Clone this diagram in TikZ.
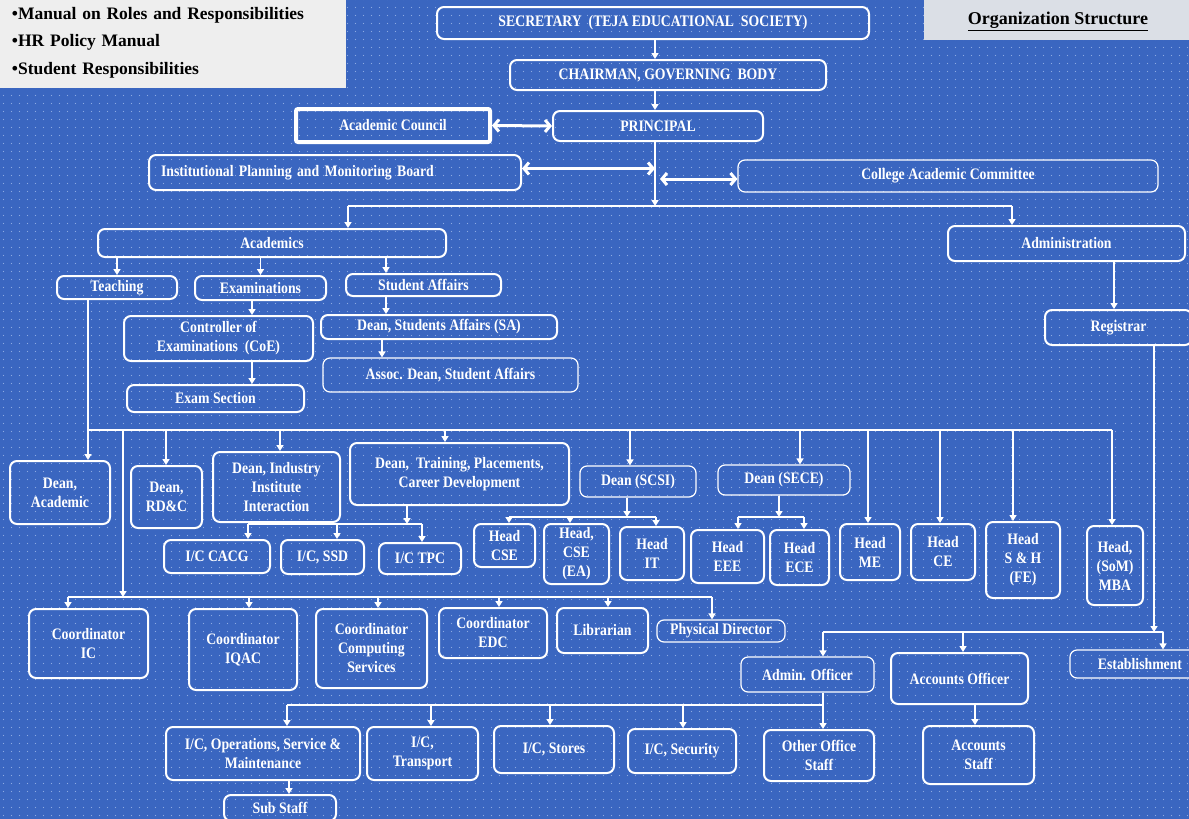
\documentclass[tikz,border=0pt]{standalone}
\usepackage{fontspec}
\newfontfamily\boxfont{Liberation Serif}[FakeStretch=0.86]
\newfontfamily\notefont{Liberation Serif}
\usetikzlibrary{arrows.meta,patterns.meta}

\definecolor{bgblue}{RGB}{58,102,192}
\definecolor{dotblue}{RGB}{140,170,225}
\definecolor{notegray}{RGB}{238,238,238}
\definecolor{titlegray}{RGB}{219,223,230}

% fine dot raster laid over the blue ground
\tikzdeclarepattern{
  name=bgdots,
  type=uncolored,
  bounding box={(0pt,0pt) and (7.5pt,7.5pt)},
  tile size={(7.5pt,7.5pt)},
  code={\fill (3.75pt,3.75pt) circle (0.7pt);}
}

\tikzset{
  orgbox/.style={draw=white, line width=2pt, rounded corners=7pt, inner sep=0pt,
    text=white, font=\boxfont\bfseries\fontsize{16}{19}\selectfont},
  multi/.style={orgbox, align=center},
  thinbox/.style={orgbox, line width=1.2pt},
  heavybox/.style={orgbox, line width=4pt, rounded corners=2pt},
  notebox/.style={fill=notegray, inner sep=0pt, text=black,
    font=\notefont\bfseries\fontsize{17.5}{27.5}\selectfont},
  conn/.style={draw=white, line width=1.8pt},
  arr/.style={conn, -{Triangle[length=6pt,width=7pt]}},
  dbl/.style={draw=white, line width=3pt,
    {Straight Barb[length=5pt,width=12pt]}-{Straight Barb[length=5pt,width=12pt]}},
}

% box given by its left, top, right and bottom edges
\newcommand\orgnode[7][orgbox]{%
  \pgfmathsetmacro\onx{(#3+#5)/2}%
  \pgfmathsetmacro\ony{(#4+#6)/2}%
  \pgfmathsetmacro\onw{#5-#3}%
  \pgfmathsetmacro\onh{#6-#4}%
  \node[#1, minimum width=\onw pt, minimum height=\onh pt] (#2) at (\onx,\ony) {#7};}

\begin{document}
\begin{tikzpicture}[x=1pt,y=-1pt]
\useasboundingbox (0,0) rectangle (1189,819);
\clip (0,0) rectangle (1189,819);
\fill[bgblue] (0,0) rectangle (1189,819);
\fill[pattern=bgdots, pattern color=dotblue] (0,0) rectangle (1189,819);

% ---------- reference panels ----------
\orgnode[notebox, text width=319pt, align=left]{notes}{-3}{-3}{346}{88}
  {\textbullet Manual on Roles and Responsibilities\\
   \textbullet HR Policy Manual\\
   \textbullet Student Responsibilities}
\orgnode[notebox, fill=titlegray, text depth=0pt,
         font=\notefont\bfseries\fontsize{18}{22}\selectfont]{title}{924}{-3}{1192}{40}
  {\underline{Organization Structure}}

% ---------- top management ----------
\orgnode{sec}{437}{7}{869}{39}{SECRETARY~~(TEJA EDUCATIONAL~~SOCIETY)}
\orgnode{chair}{510}{60}{826}{90}{CHAIRMAN, GOVERNING~~BODY}
\orgnode[heavybox]{ac}{296}{109}{490}{142}{Academic Council}
\orgnode{prin}{553}{111}{763}{141}{PRINCIPAL}
\orgnode[orgbox, text width=348pt, align=left]{ipmb}{149}{155}{521}{190}
  {Institutional Planning and Monitoring Board}
\orgnode[thinbox]{cac}{738}{160}{1158}{192}{College Academic Committee}

% ---------- academics / administration ----------
\orgnode{acad}{98}{229}{446}{257}{Academics}
\orgnode{adm}{948}{226}{1185}{261}{Administration}
\orgnode{teach}{57}{276}{177}{299}{Teaching}
\orgnode{exam}{195}{276}{326}{300}{Examinations}
\orgnode{sa}{346}{274}{501}{296}{Student Affairs}
\orgnode[multi]{coe}{124}{316}{313}{361}{Controller of\\Examinations~~(CoE)}
\orgnode{exsec}{127}{385}{304}{412}{Exam Section}
\orgnode{dsa}{321}{315}{557}{339}{Dean, Students Affairs (SA)}
\orgnode[thinbox]{adsa}{323}{358}{578}{392}{Assoc. Dean, Student Affairs}
\orgnode{reg}{1045}{310}{1192}{345}{Registrar}

% ---------- deans and heads ----------
\orgnode[multi]{dacad}{10}{461}{110}{524}{Dean,\\Academic}
\orgnode[multi]{drdc}{131}{466}{202}{528}{Dean,\\RD\&C}
\orgnode[multi]{diii}{213}{452}{340}{522}{Dean, Industry\\Institute\\Interaction}
\orgnode[multi]{dtpc}{350}{443}{569}{505}{Dean,~~Training, Placements,\\Career Development}
\orgnode[thinbox]{dscsi}{580}{466}{696}{497}{Dean (SCSI)}
\orgnode[thinbox]{dsece}{718}{465}{850}{495}{Dean (SECE)}
\orgnode[multi]{hme}{840}{524}{900}{580}{Head\\ME}
\orgnode[multi]{hce}{911}{524}{975}{580}{Head\\CE}
\orgnode[multi]{hsh}{986}{522}{1060}{598}{Head\\S \& H\\(FE)}
\orgnode[multi]{hmba}{1087}{526}{1143}{605}{Head,\\(SoM)\\MBA}
\orgnode{cacg}{164}{540}{270}{573}{I/C CACG}
\orgnode{ssd}{281}{540}{364}{574}{I/C, SSD}
\orgnode{tpc}{379}{543}{461}{574}{I/C TPC}
\orgnode[multi]{hcse}{474}{524}{535}{567}{Head\\CSE}
\orgnode[multi]{hcsea}{544}{524}{609}{584}{Head,\\CSE\\(EA)}
\orgnode[multi]{hit}{620}{527}{684}{580}{Head\\IT}
\orgnode[multi]{heee}{691}{530}{764}{583}{Head\\EEE}
\orgnode[multi]{hece}{770}{530}{829}{585}{Head\\ECE}

% ---------- coordinators and support ----------
\orgnode[multi]{cic}{29}{609}{148}{678}{Coordinator\\IC}
\orgnode[multi]{ciqac}{189}{609}{297}{690}{Coordinator\\IQAC}
\orgnode[multi]{ccs}{316}{609}{427}{688}{Coordinator\\Computing\\Services}
\orgnode[multi]{cedc}{439}{608}{547}{658}{Coordinator\\EDC}
\orgnode{lib}{557}{608}{648}{653}{Librarian}
\orgnode[thinbox]{pd}{657}{620}{785}{642}{Physical Director}
\orgnode[thinbox]{ao}{741}{657}{874}{692}{Admin. Officer}
\orgnode{acco}{891}{653}{1028}{704}{Accounts Officer}
\orgnode[thinbox]{est}{1070}{650}{1210}{678}{Establishment}
\orgnode[multi]{accs}{923}{726}{1034}{784}{Accounts\\Staff}
\orgnode[multi]{ops}{166}{727}{360}{780}{I/C, Operations, Service \&\\Maintenance}
\orgnode[multi]{trans}{367}{727}{478}{780}{I/C,\\Transport}
\orgnode{stores}{494}{726}{614}{773}{I/C, Stores}
\orgnode{secu}{628}{729}{736}{773}{I/C, Security}
\orgnode[multi]{oos}{764}{730}{874}{781}{Other Office\\Staff}
\orgnode{sub}{224}{795}{336}{821}{Sub Staff}

% ---------- connectors: top ----------
\coordinate (spine) at (655,0);
\coordinate (spineR) at (660,0);
\draw[arr] (sec.south -| spine) -- (chair.north -| spine);
\draw[arr] (chair.south -| spine) -- (prin.north -| spine);
\draw[dbl] (ac.east) -- (prin.west);
\coordinate (ipmbR) at ([yshift=4pt]ipmb.east);
\draw[dbl] (ipmbR) -- (ipmbR -| spine);
\coordinate (cacL) at ([yshift=-3pt]cac.west);
\draw[dbl] (cacL -| spineR) -- (cacL);

\coordinate (b1) at (0,206);
\coordinate (xAc) at (348,0);
\coordinate (xAd) at (1012,0);
\draw[arr] (prin.south -| spine) -- (spine |- b1);
\draw[conn] (xAc |- b1) -- (xAd |- b1);
\draw[arr] (xAc |- b1) -- (xAc |- acad.north);
\draw[arr] (xAd |- b1) -- (xAd |- adm.north);

% ---------- connectors: academics ----------
\draw[arr] (teach.north |- acad.south) -- (teach.north);
\draw[arr] (exam.north |- acad.south) -- (exam.north);
\coordinate (xSA) at (386,0);
\draw[arr] (xSA |- acad.south) -- (xSA |- sa.north);
\draw[arr] (xSA |- sa.south) -- (xSA |- dsa.north);
\coordinate (xAD) at (382,0);
\draw[arr] (xAD |- dsa.south) -- (xAD |- adsa.north);
\coordinate (xCoE) at (252,0);
\draw[arr] (xCoE |- exam.south) -- (xCoE |- coe.north);
\draw[arr] (xCoE |- coe.south) -- (xCoE |- exsec.north);
\coordinate (xReg) at (1114,0);
\draw[arr] (xReg |- adm.south) -- (xReg |- reg.north);

% ---------- connectors: deans bus ----------
\coordinate (xT) at (88,0);
\coordinate (b2L) at (88,430);
\coordinate (b2R) at (1112,430);
\draw[arr] (xT |- teach.south) -- (xT |- dacad.north);
\draw[conn] (b2L) -- (b2R);
\foreach \n/\x in {drdc/166, diii/280, dtpc/445, dscsi/630, dsece/800,
                   hme/868, hce/940, hsh/1013, hmba/1112} {
  \coordinate (tap) at (\x,430);
  \draw[arr] (tap) -- (tap |- \n.north);
}

% ---------- connectors: coordinators bus ----------
\coordinate (b3top) at (123,430);
\coordinate (b3L) at (68,597);
\coordinate (b3R) at (712,597);
\draw[arr] (b3top) -- (b3top |- b3L);
\draw[conn] (b3L) -- (b3R);
\foreach \n/\x in {cic/68, ciqac/249, ccs/378, cedc/499, lib/608, pd/712} {
  \coordinate (tap) at (\x,597);
  \draw[arr] (tap) -- (tap |- \n.north);
}

% ---------- connectors: training cell ----------
\coordinate (xTP) at (407,0);
\coordinate (b4L) at (248,524);
\coordinate (b4R) at (422,524);
\draw[arr] (xTP |- dtpc.south) -- (xTP |- b4L);
\draw[conn] (b4L) -- (b4R);
\foreach \n/\x in {cacg/248, ssd/337, tpc/422} {
  \coordinate (tap) at (\x,524);
  \draw[arr] (tap) -- (tap |- \n.north);
}

% ---------- connectors: schools ----------
\coordinate (xSC) at (627,0);
\coordinate (b5L) at (509,517);
\coordinate (b5R) at (656,517);
\draw[arr] (xSC |- dscsi.south) -- (xSC |- b5L);
\draw[conn] (b5L) -- (b5R);
\foreach \n/\x in {hcse/509, hcsea/570, hit/656} {
  \coordinate (tap) at (\x,517);
  \draw[arr] (tap) -- (tap |- \n.north);
}
\coordinate (xSE) at (779,0);
\coordinate (b6L) at (738,517);
\coordinate (b6R) at (804,517);
\draw[arr] (xSE |- dsece.south) -- (xSE |- b6L);
\draw[conn] (b6L) -- (b6R);
\foreach \n/\x in {heee/738, hece/804} {
  \coordinate (tap) at (\x,517);
  \draw[arr] (tap) -- (tap |- \n.north);
}

% ---------- connectors: administration ----------
\coordinate (xR2) at (1154,0);
\coordinate (b7L) at (823,632);
\coordinate (b7R) at (1163,632);
\draw[arr] (xR2 |- reg.south) -- (xR2 |- b7L);
\draw[conn] (b7L) -- (b7R);
\foreach \n/\x in {ao/823, acco/963, est/1163} {
  \coordinate (tap) at (\x,632);
  \draw[arr] (tap) -- (tap |- \n.north);
}
\coordinate (xAO) at (823,0);
\coordinate (b8L) at (287,705);
\draw[arr] (xAO |- ao.south) -- (xAO |- oos.north);
\draw[conn] (b8L) -- (b8L -| xAO);
\foreach \n/\x in {ops/287, trans/431, stores/550, secu/683} {
  \coordinate (tap) at (\x,705);
  \draw[arr] (tap) -- (tap |- \n.north);
}
\coordinate (xOp) at (289,0);
\draw[arr] (xOp |- ops.south) -- (xOp |- sub.north);
\coordinate (xAcc) at (975,0);
\draw[arr] (xAcc |- acco.south) -- (xAcc |- accs.north);
\end{tikzpicture}
\end{document}
